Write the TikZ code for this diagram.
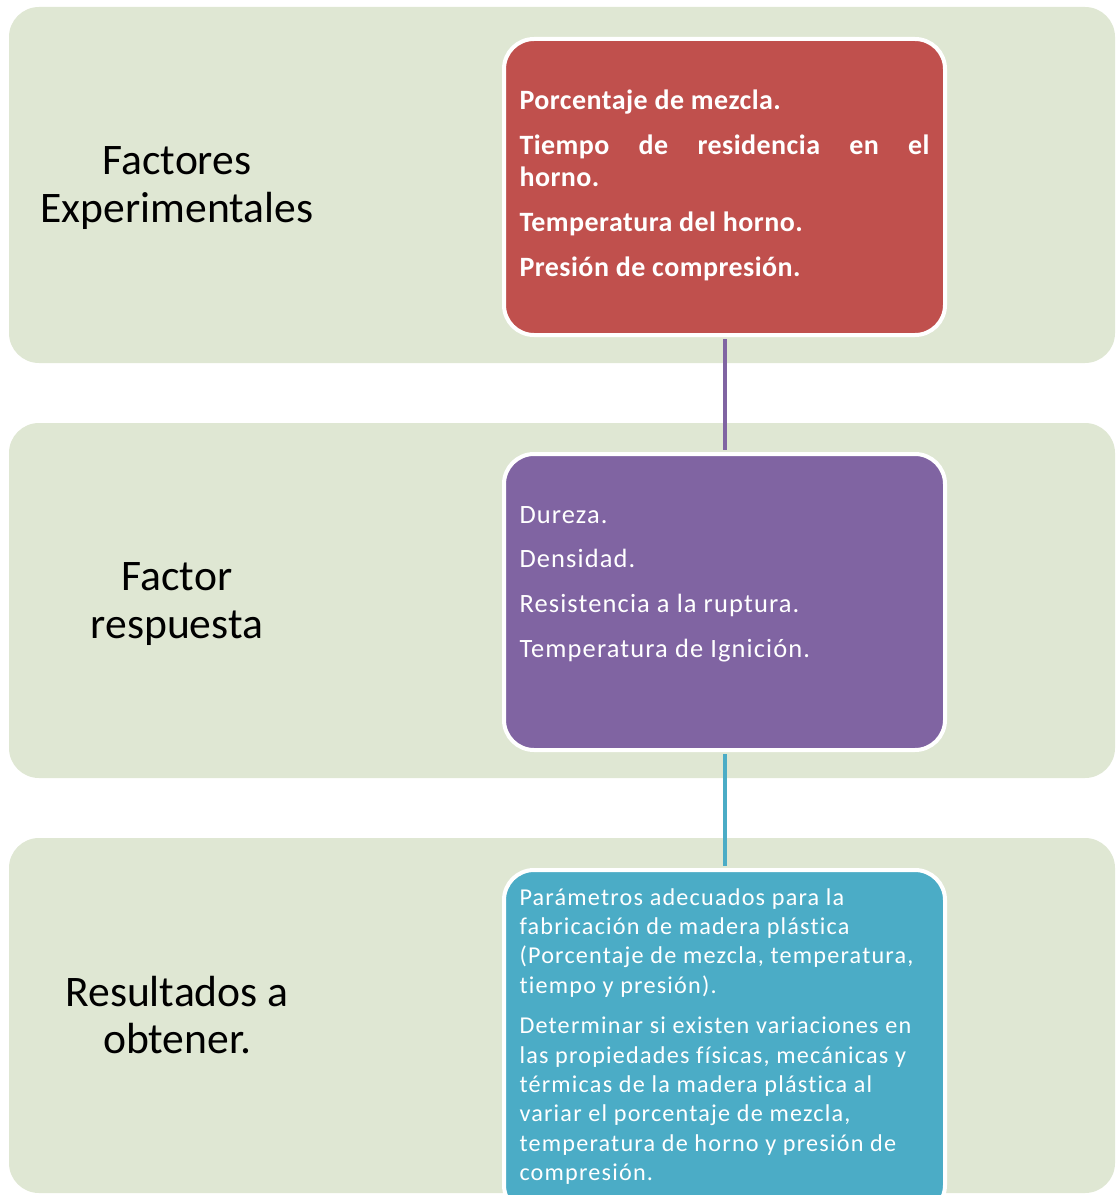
\documentclass[tikz,border=0pt]{standalone}
\usepackage{fontspec}
\setmainfont{Carlito}
\newfontfamily\factorfont[LetterSpace=1.7, Ligatures=NoCommon]{Carlito}
\newfontfamily\respfont[LetterSpace=4.3, Ligatures=NoCommon]{Carlito}
\newfontfamily\resultfont[LetterSpace=5.0, Ligatures=NoCommon]{Carlito}
\usepackage{xcolor}
\newdimen\pxu \pxu=0.025cm
\newcommand\firstbase[1]{\rule{0pt}{#1\pxu}}
\definecolor{bandgreen}{RGB}{223,231,211}
\definecolor{boxred}{RGB}{192,80,77}
\definecolor{boxpurple}{RGB}{128,100,162}
\definecolor{boxblue}{RGB}{75,172,198}

\begin{document}
\begin{tikzpicture}[x=0.025cm, y=-0.025cm,
    band/.style={fill=bandgreen, rounded corners=30\pxu},
    listbox/.style={draw=white, line width=4\pxu, rounded corners=30\pxu, inner xsep=15.5\pxu, inner ysep=0pt, text=white, anchor=north},
    link/.style={line width=4\pxu, shorten <=2\pxu, shorten >=2\pxu},
    stage/.style={align=center, font=\fontsize{31}{34.1}\selectfont}]
                \clip (0,0) rectangle (1116,1195);

                % Bands
                \fill[band] (9,7) rectangle (1115,363);
                \fill[band] (9,423) rectangle (1115,778);
                \fill[band] (9,838) rectangle (1115,1193);

                % Stage labels
                \node[stage] (lblfactores) at (177,188) {Factores\\Experimentales};
                \node[stage] (lblrespuesta) at (177,604) {Factor\\respuesta};
                \node[stage] (lblresultados) at (177,1015) {Resultados a\\obtener.};

                % Boxes
                \node[listbox, fill=boxred] (factores) at (724.5,37) {\parbox[c][296\pxu][t]{410\pxu}{%
                    \factorfont\bfseries\fontsize{19.9}{22.8}\selectfont\setlength\parskip{9.4pt}%
                    \firstbase{70}Porcentaje de mezcla.\par
                    Tiempo de residencia en el\linebreak horno.\par
                    Temperatura del horno.\par
                    Presión de compresión.}};
                \node[listbox, fill=boxpurple] (respuesta) at (724.5,452) {\parbox[c][296\pxu][t]{410\pxu}{%
                    \raggedright\respfont\fontsize{18.8}{23}\selectfont\setlength\parskip{8.8pt}%
                    \firstbase{69}Dureza.\par
                    Densidad.\par
                    Resistencia a la ruptura.\par
                    Temperatura de Ignición.}};
                \node[listbox, fill=boxblue] (resultados) at (724.5,868) {\parbox[c][345\pxu][t]{410\pxu}{%
                    \raggedright\resultfont\fontsize{17.2}{20.9}\selectfont\setlength\parskip{8pt}%
                    \firstbase{35}Parámetros adecuados para la\\
                    fabricación de madera plástica\\
                    (Porcentaje de mezcla, temperatura,\\
                    tiempo y presión).\par
                    Determinar si existen variaciones en\\
                    las propiedades físicas, mecánicas y\\
                    térmicas de la madera plástica al\\
                    variar el porcentaje de mezcla,\\
                    temperatura de horno y presión de\\
                    compresión.}};

                % Links
                \draw[link, boxpurple] (factores.south) -- (respuesta.north);
                \draw[link, boxblue] (respuesta.south) -- (resultados.north);
\end{tikzpicture}
\end{document}
